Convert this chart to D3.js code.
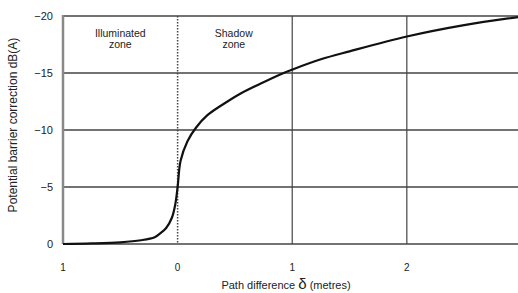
<!DOCTYPE html>
<html>
<head>
<meta charset="utf-8">
<script src="https://cdn.jsdelivr.net/npm/d3@7"></script>
<style>
  body { margin: 0; background: #fff; }
  text { font-family: "Liberation Sans", Arial, sans-serif; fill: #222; }
</style>
</head>
<body>
<svg id="chart" width="518" height="293"></svg>
<script>
// path difference (metres) and the barrier correction
var pathDiff   = [-1, -0.75, -0.5, -0.32, -0.2, -0.15, -0.1, -0.05, -0.02, 0, 0.026, 0.085, 0.16, 0.26, 0.435, 0.55, 0.73, 0.9, 1.0, 1.25, 1.5, 2.0, 2.5, 2.97];
var correction = [0, -0.05, -0.15, -0.33, -0.6, -0.95, -1.4, -2.3, -3.5, -5.0, -7.3, -9.0, -10.2, -11.3, -12.5, -13.2, -14.1, -14.9, -15.3, -16.2, -16.9, -18.2, -19.2, -19.9];

var yTicks = [0, -5, -10, -15, -20];
var xTicks = [-1, 0, 1, 2];
var xTickLabels = ["1", "0", "1", "2"];
var zones = [{ name: ["Illuminated", "zone"], at: -0.5 }, { name: ["Shadow", "zone"], at: 0.49 }];

var svg = d3.select("#chart");
var margin = { top: 16, right: 0, bottom: 49, left: 63 };
var width = 518, height = 293;

var x = d3.scaleLinear().domain([-1, 2.97]).range([margin.left, width - margin.right]);
var y = d3.scaleLinear().domain([0, -20]).range([height - margin.bottom, margin.top]);

// horizontal grid
svg.append("g")
  .selectAll("line")
  .data(yTicks)
  .enter().append("line")
    .attr("x1", x(-1)).attr("x2", width)
    .attr("y1", d => y(d)).attr("y2", d => y(d))
    .style("stroke", "#444")
    .style("stroke-width", 1.3);

// vertical grid, dotted at zero
svg.append("g")
  .selectAll("line")
  .data(xTicks.slice(1))
  .enter().append("line")
    .attr("x1", d => x(d)).attr("x2", d => x(d))
    .attr("y1", y(-20)).attr("y2", y(0))
    .style("stroke", "#444")
    .style("stroke-width", d => d == 0 ? 1.5 : 1.2)
    .style("stroke-dasharray", d => d == 0 ? "1.5,1.5" : null);

// left axis line
svg.append("line")
  .attr("x1", x(-1)).attr("x2", x(-1))
  .attr("y1", y(-20) - 1).attr("y2", y(0))
  .style("stroke", "#888")
  .style("stroke-width", 2.5);

// y tick labels
svg.append("g")
  .selectAll("text")
  .data(yTicks)
  .enter().append("text")
    .attr("x", 53)
    .attr("y", d => y(d) + 4)
    .attr("text-anchor", "end")
    .style("font-size", "11px")
    .text(d => d3.format("d")(d));

// x tick labels
svg.append("g")
  .selectAll("text")
  .data(xTicks)
  .enter().append("text")
    .attr("x", d => x(d))
    .attr("y", 271)
    .attr("text-anchor", "middle")
    .style("font-size", "10px")
    .text((d, i) => xTickLabels[i]);

// zone labels
zones.forEach(function (z) {
  var t = svg.append("text")
    .attr("text-anchor", "middle")
    .style("font-size", "10.5px");
  z.name.forEach(function (s, i) {
    t.append("tspan").attr("x", x(z.at)).attr("y", 37 + i * 11).text(s);
  });
});

// curve
svg.append("path")
  .datum(pathDiff.map((d, i) => [d, correction[i]]))
  .attr("d", d3.line().x(d => x(d[0])).y(d => y(d[1])).curve(d3.curveCatmullRom.alpha(0.5)))
  .style("fill", "none")
  .style("stroke", "#111")
  .style("stroke-width", 2.2);

// axis titles
var xt = svg.append("text")
  .attr("x", 286).attr("y", 289)
  .attr("text-anchor", "middle")
  .style("font-size", "11px");
xt.append("tspan").text("Path difference  ");
xt.append("tspan").style("font-size", "15px").text("δ");
xt.append("tspan").text(" (metres)");

svg.append("text")
  .attr("transform", "translate(17," + 125 + ") rotate(-90)")
  .attr("text-anchor", "middle")
  .style("font-size", "12px")
  .text("Potential barrier correction dB(A)");
</script>
</body>
</html>
